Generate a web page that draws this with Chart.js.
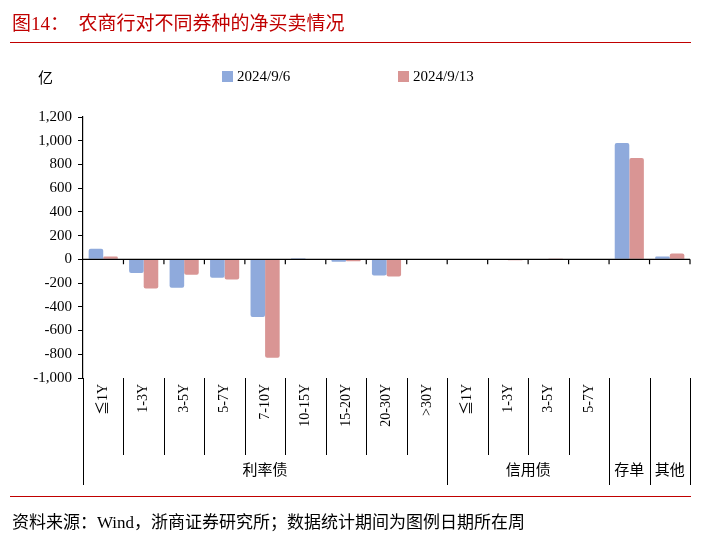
<!DOCTYPE html>
<html><head><meta charset="utf-8">
<script src="https://cdn.jsdelivr.net/npm/chart.js@4"></script>
<style>
body{margin:0;width:707px;height:541px;position:relative;background:#fff;font-family:"Liberation Serif","Noto Sans CJK SC",serif;overflow:hidden;}
#title{position:absolute;left:12px;top:8px;font-size:19px;color:#c00000;}
#tline{position:absolute;left:10px;right:16px;top:42px;border-top:1.5px solid #c00000;}
#bline{position:absolute;left:10px;right:16px;top:496px;border-top:1.5px solid #c00000;}
#src{position:absolute;left:12px;top:508px;font-size:17px;color:#000;}
#unit{position:absolute;left:38px;top:66px;font-size:15px;}
#c{position:absolute;left:0;top:0;}
</style></head>
<body>
<canvas id="c" width="707" height="541"></canvas>
<div id="title">图14：&nbsp;&nbsp;农商行对不同券种的净买卖情况</div>
<div id="tline"></div>
<div id="unit">亿</div>
<div id="bline"></div>
<div id="src">资料来源：Wind，浙商证券研究所；数据统计期间为图例日期所在周</div>
<script>
Chart.defaults.font.family = '"Liberation Serif","Noto Sans CJK SC",serif';
Chart.defaults.font.size = 14;
Chart.defaults.color = '#000';

const categories = ['≦1Y','1-3Y','3-5Y','5-7Y','7-10Y','10-15Y','15-20Y','20-30Y','>30Y','≦1Y','1-3Y','3-5Y','5-7Y','',''];
const groups = [['利率债',0,8],['信用债',9,12],['存单',13,13],['其他',14,14]];
const seriesNames = ['2024/9/6','2024/9/13'];
const sep6 = [90,-115,-240,-155,-485,10,-20,-135,-5,-5,-5,5,-5,980,25];
const sep13 = [25,-245,-130,-170,-830,5,-15,-145,-5,-5,-8,8,-5,855,50];

const tablePlugin = {
  id:'table',
  afterDraw(chart){
    const ctx = chart.ctx, y = chart.scales.y, a = chart.chartArea;
    const n = categories.length, w = (a.right - a.left) / n;
    const y0 = y.getPixelForValue(0);
    ctx.save();
    ctx.strokeStyle = '#000'; ctx.lineWidth = 1.2;
    ctx.beginPath(); ctx.moveTo(a.left, y0); ctx.lineTo(a.right, y0);
    for (let i = 1; i <= n; i++){ const px = a.left + i*w; ctx.moveTo(px, y0); ctx.lineTo(px, y0+5); }
    ctx.stroke();
    const top = a.bottom, mid = 455, bot = 485;
    const groupEdges = groups.map(g => g[1]);
    ctx.lineWidth = 1;
    ctx.beginPath();
    for (let i = 0; i <= n; i++){
      const px = Math.round(a.left + i*w) + 0.5;
      const full = i === 0 || i === n || groupEdges.includes(i);
      ctx.moveTo(px, top); ctx.lineTo(px, full ? bot : mid);
    }
    ctx.stroke();
    ctx.font = '14px "Liberation Serif","Noto Sans CJK SC",serif';
    ctx.fillStyle = '#000';
    categories.forEach((c, i) => {
      if (!c) return;
      ctx.save();
      ctx.translate(a.left + (i+0.5)*w, top + 6);
      ctx.rotate(-Math.PI/2);
      ctx.textAlign = 'right'; ctx.textBaseline = 'middle';
      ctx.fillText(c, 0, 0);
      ctx.restore();
    });
    ctx.textAlign = 'center'; ctx.textBaseline = 'middle';
    ctx.font = '15px "Noto Sans CJK SC",serif';
    groups.forEach(g => {
      ctx.fillText(g[0], a.left + ((g[1]+g[2]+1)/2)*w, 469);
    });
    ctx.restore();
  }
};

new Chart(document.getElementById('c'), {
  type:'bar',
  data:{
    labels: categories.map((c,i)=> c || ('x'+i)),
    datasets:[
      {label:seriesNames[0], data:sep6, backgroundColor:'rgb(143,170,220)', borderRadius:2},
      {label:seriesNames[1], data:sep13, backgroundColor:'rgb(217,149,148)', borderRadius:2}
    ]
  },
  options:{
    responsive:false, animation:false, events:[], devicePixelRatio:1,
    layout:{padding:{top:117, right:17, bottom:163, left:0}},
    datasets:{bar:{categoryPercentage:0.72, barPercentage:1}},
    scales:{
      x:{display:false},
      y:{
        min:-1000, max:1200,
        afterFit(s){ s.width = 83; },
        ticks:{stepSize:200, padding:6, font:{size:15}, callback:(v)=> v.toLocaleString('en-US')},
        grid:{drawOnChartArea:false, tickLength:5, color:'#000'},
        border:{color:'#000', width:1.2}
      }
    },
    plugins:{
      legend:{display:false},
      tooltip:{enabled:false}
    }
  },
  plugins:[tablePlugin, {
    id:'legendDraw',
    afterDraw(chart){
      const ctx = chart.ctx;
      ctx.save();
      ctx.font = '15px "Liberation Serif",serif'; ctx.textBaseline='middle';
      [[222,'rgb(143,170,220)',seriesNames[0]],[398,'rgb(217,149,148)',seriesNames[1]]].forEach(([x,col,t])=>{
        ctx.fillStyle = col; ctx.fillRect(x, 71, 11, 11);
        ctx.fillStyle = '#000'; ctx.fillText(t, x+15, 77);
      });
      ctx.restore();
    }
  }]
});
</script>
</body></html>
